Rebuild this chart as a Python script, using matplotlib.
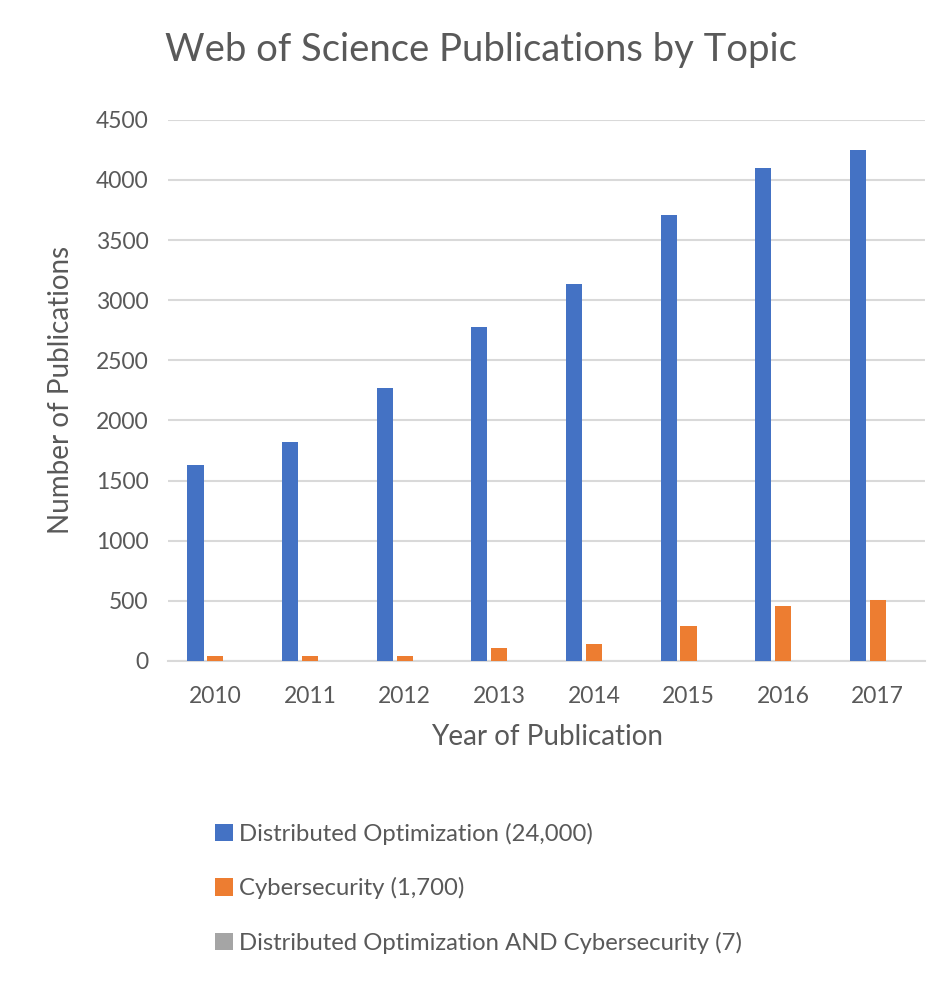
import numpy as np
import matplotlib
matplotlib.use("Agg")
import matplotlib.pyplot as plt

years = ["2010", "2011", "2012", "2013", "2014", "2015", "2016", "2017"]
dist_opt = [1625, 1820, 2270, 2775, 3135, 3705, 4100, 4250]
cyber = [40, 40, 40, 110, 140, 290, 460, 505]
both = [0, 1, 0, 1, 1, 1, 2, 1]

labels = ["Distributed Optimization (24,000)",
          "Cybersecurity (1,700)",
          "Distributed Optimization AND Cybersecurity (7)"]
colors = ["#4472C4", "#ED7D31", "#A5A5A5"]
text_color = "#595959"

plt.rcParams['font.family'] = ['Lato', 'DejaVu Sans']

fig = plt.figure(figsize=(9.44, 9.82), dpi=100)
ax = fig.add_axes([0.178, 0.327, 0.802, 0.551])

x = np.arange(len(years))
width = 0.17
offsets = [-0.21, 0.0, 0.21]
for series, off, col, lab in zip([dist_opt, cyber, both], offsets, colors, labels):
    ax.bar(x + off, series, width, color=col, label=lab, zorder=3)

ax.set_xlim(-0.5, len(years) - 0.5)
ax.set_ylim(0, 4500)
ax.set_yticks(np.arange(0, 4501, 500))
ax.set_xticks(x)
ax.set_xticklabels(years)
ax.grid(axis='y', color='#d9d9d9', linewidth=1.5, zorder=0)
for s in ['top', 'right', 'left']:
    ax.spines[s].set_visible(False)
ax.spines['bottom'].set_color('#d9d9d9')
ax.spines['bottom'].set_linewidth(1.5)
ax.tick_params(length=0, labelsize=16.5, colors=text_color)
ax.tick_params(axis='x', pad=18)
ax.tick_params(axis='y', pad=14)

ax.set_xlabel("Year of Publication", fontsize=20, color=text_color, labelpad=12)
ax.set_ylabel("Number of Publications", fontsize=20, color=text_color, labelpad=16)

fig.text(0.509, 0.949, "Web of Science Publications by Topic", ha='center', va='center',
         fontsize=27.5, color=text_color)

handles, labs = ax.get_legend_handles_labels()
leg = fig.legend(handles, labs, loc='upper left', bbox_to_anchor=(0.205, 0.184),
                 frameon=False, fontsize=17.2, labelspacing=1.36,
                 handlelength=0.75, handleheight=0.75, handletextpad=0.25)
for t in leg.get_texts():
    t.set_color(text_color)

fig.savefig("out.png", dpi=100)
